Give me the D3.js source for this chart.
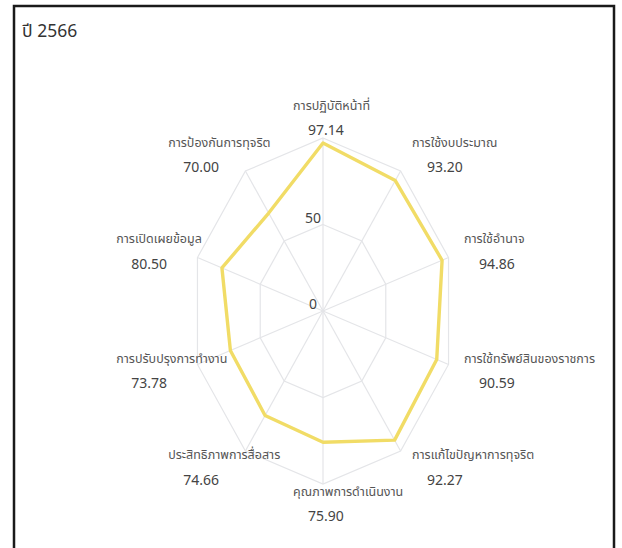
<!DOCTYPE html>
<html>
<head>
<meta charset="utf-8">
<script src="https://cdn.jsdelivr.net/npm/d3@7"></script>
<style>
  html, body { margin: 0; padding: 0; background: #fff; }
  svg { display: block; font-family: "Noto Sans Thai", "Noto Sans", "DejaVu Sans", sans-serif; }
</style>
</head>
<body>
<svg id="chart"></svg>
<script>
// data
const title = "ปี 2566";
const categories = [
  "การปฏิบัติหน้าที่",
  "การใช้งบประมาณ",
  "การใช้อำนาจ",
  "การใช้ทรัพย์สินของราชการ",
  "การแก้ไขปัญหาการทุจริต",
  "คุณภาพการดำเนินงาน",
  "ประสิทธิภาพการสื่อสาร",
  "การปรับปรุงการทำงาน",
  "การเปิดเผยข้อมูล",
  "การป้องกันการทุจริต"
];
const scores = [97.14, 93.20, 94.86, 90.59, 92.27, 75.90, 74.66, 73.78, 80.50, 70.00];
const tickValues = [0, 50];
const gridLevels = [50, 100];

const W = 622, H = 548;
const cx = 323, cy = 311;
const ry = 173, rx = 132;   // the picture is squeezed sideways

const svg = d3.select("#chart").attr("width", W).attr("height", H);

// frame
svg.append("path")
  .attr("d", `M14,${H + 5} V6 H614 V${H + 5}`)
  .attr("fill", "none")
  .attr("stroke", "#1a1a1a")
  .attr("stroke-width", 2.5);

svg.append("text")
  .attr("x", 22).attr("y", 37)
  .attr("font-size", 17.5)
  .attr("fill", "#333")
  .text(title);

const n = categories.length;
const angle = d3.scaleLinear().domain([0, n]).range([0, 2 * Math.PI]);
const rScale = d3.scaleLinear().domain([0, 100]).range([0, 1]);

function pt(i, v) {
  const a = angle(i), k = rScale(v);
  return [cx + Math.sin(a) * rx * k, cy - Math.cos(a) * ry * k];
}

const g = svg.append("g");

// rings
g.selectAll(".ring")
  .data(gridLevels)
  .join("path")
    .attr("class", "ring")
    .attr("d", lv => d3.line()(d3.range(n).map(i => pt(i, lv))) + "Z")
    .attr("fill", "none")
    .attr("stroke", "#e4e5e8")
    .attr("stroke-width", 1.2);

// spokes
g.selectAll(".spoke")
  .data(d3.range(n))
  .join("line")
    .attr("class", "spoke")
    .attr("x1", cx).attr("y1", cy)
    .attr("x2", i => pt(i, 100)[0])
    .attr("y2", i => pt(i, 100)[1])
    .attr("stroke", "#e4e5e8")
    .attr("stroke-width", 1.2);

// ticks
g.selectAll(".tick")
  .data(tickValues)
  .join("text")
    .attr("class", "tick")
    .attr("x", cx - 10)
    .attr("y", v => cy - ry * rScale(v) - 2)
    .attr("text-anchor", "middle")
    .attr("font-size", 14)
    .attr("fill", "#444")
    .text(v => v);

// series
g.append("path")
  .datum(scores)
  .attr("d", d => d3.line()(d.map((v, i) => pt(i, v))) + "Z")
  .attr("fill", "none")
  .attr("stroke", "#f1dc66")
  .attr("stroke-width", 3.4)
  .attr("stroke-linejoin", "round");

// labels
const lab = g.selectAll(".lab")
  .data(categories.map((c, i) => ({ c, v: scores[i], i })))
  .join("g")
    .attr("class", "lab");

lab.each(function(d) {
  const sel = d3.select(this);
  const a = angle(d.i);
  const s = Math.sin(a), c = Math.cos(a);
  const mid = cy - c * 193;
  const valT = sel.append("text")
    .attr("font-size", 14)
    .attr("fill", "#444")
    .attr("y", mid + 12.5)
    .attr("dy", "0.35em")
    .text(d.v.toFixed(2));
  const labT = sel.append("text")
    .attr("font-size", 12.5)
    .attr("fill", "#555")
    .attr("y", mid - 12.5)
    .attr("dy", "0.35em")
    .text(d.c);
  const vw = valT.node().getComputedTextLength();
  const rv = 198 - 35.8 * Math.abs(s);
  let vLeft;
  if (Math.abs(s) < 0.01) vLeft = cx + 3 - vw / 2;
  else if (s > 0) vLeft = cx + s * rv;
  else vLeft = cx + s * rv - vw;
  valT.attr("x", vLeft);
  labT.attr("x", vLeft - 15);
});
</script>
</body>
</html>
